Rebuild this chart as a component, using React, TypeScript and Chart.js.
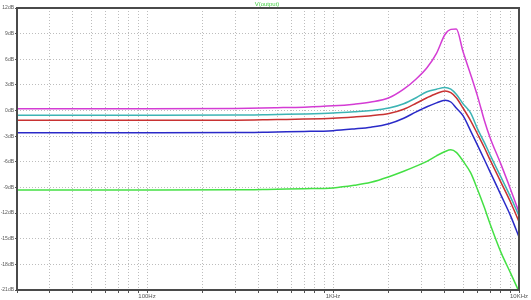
import React, { useEffect, useRef } from "react";
import { Chart, registerables } from "chart.js";

Chart.register(...registerables);

const freqs = [20, 100, 300, 500, 700, 1000, 1300, 1600, 2000, 2400, 2800, 3200, 3600, 4000, 4300, 4600, 5000, 5500, 6000, 6500, 7000, 8000, 9000, 10000];
const magenta = [0.2, 0.2, 0.25, 0.33, 0.4, 0.55, 0.75, 1.0, 1.5, 2.5, 3.7, 5.0, 6.7, 8.9, 9.5, 9.55, 6.9, 4.2, 1.6, -1.1, -3.2, -6.3, -9.2, -11.9];
const cyan = [-0.55, -0.55, -0.53, -0.45, -0.4, -0.3, -0.15, 0.0, 0.3, 0.8, 1.5, 2.2, 2.5, 2.7, 2.5, 1.9, 0.8, -0.3, -2.2, -3.7, -5.2, -7.8, -10.1, -12.3];
const red = [-1.15, -1.15, -1.13, -1.05, -1.0, -0.9, -0.75, -0.6, -0.35, 0.15, 0.85, 1.5, 2.0, 2.3, 2.1, 1.5, 0.3, -1.2, -2.8, -4.3, -5.8, -8.4, -10.7, -13.0];
const blue = [-2.6, -2.6, -2.58, -2.5, -2.45, -2.35, -2.15, -1.95, -1.55, -0.9, -0.15, 0.45, 0.9, 1.2, 1.0, 0.3, -0.6, -2.4, -4.1, -5.7, -7.2, -9.9, -12.3, -14.8];
const green = [-9.3, -9.3, -9.28, -9.2, -9.15, -9.05, -8.75, -8.4, -7.75, -7.1, -6.5, -5.95, -5.3, -4.8, -4.6, -4.9, -5.9, -7.3, -9.3, -11.3, -13.3, -16.6, -19.0, -21.2];

const gridFreqs = [20, 30, 40, 50, 60, 70, 80, 90, 100, 200, 300, 400, 500, 600, 700, 800, 900, 1000, 2000, 3000, 4000, 5000, 6000, 7000, 8000, 9000, 10000];
const xLabels: Record<number, string> = { 100: "100Hz", 1000: "1KHz", 10000: "10KHz" };
const title = "V(output)";

const seriesList = [
  { name: "magenta", data: magenta, color: "#d43cd4" },
  { name: "cyan", data: cyan, color: "#3cb4b4" },
  { name: "red", data: red, color: "#c83232" },
  { name: "blue", data: blue, color: "#2a2ac8" },
  { name: "green", data: green, color: "#44e044" },
];

export default function App() {
  const ref = useRef<HTMLCanvasElement>(null);
  useEffect(() => {
    const framePlugin = {
      id: "frame",
      afterDraw(chart: any) {
        const { ctx, chartArea } = chart;
        ctx.save();
        ctx.strokeStyle = "#4a4a4a";
        ctx.lineWidth = 2;
        ctx.strokeRect(chartArea.left, chartArea.top, chartArea.right - chartArea.left, chartArea.bottom - chartArea.top);
        ctx.fillStyle = "#44d044";
        ctx.font = "6px 'Liberation Sans'";
        ctx.textAlign = "center";
        ctx.textBaseline = "middle";
        ctx.fillText(title, 267, 4);
        ctx.restore();
      },
    };
    const chart = new Chart(ref.current!, {
      type: "line",
      data: {
        datasets: seriesList.map((s) => ({
          label: s.name,
          data: freqs.map((f, i) => ({ x: f, y: s.data[i] })),
          borderColor: s.color,
          backgroundColor: s.color,
          borderWidth: 1.5,
          pointRadius: 0,
          cubicInterpolationMode: "monotone" as const,
          fill: false,
        })),
      },
      options: {
        animation: false,
        responsive: false,
        layout: { padding: { top: 8, right: 12, left: 0, bottom: 0 } },
        plugins: { legend: { display: false }, tooltip: { enabled: false }, title: { display: false } },
        scales: {
          x: {
            type: "logarithmic",
            min: 20,
            max: 10000,
            afterBuildTicks: (scale: any) => {
              scale.ticks = gridFreqs.map((v) => ({ value: v }));
            },
            afterFit: (scale: any) => {
              scale.height = 10;
            },
            ticks: {
              autoSkip: false,
              maxRotation: 0,
              padding: 0,
              color: "#555",
              font: { size: 6, family: "'Liberation Sans'" },
              callback: (v: any) => xLabels[Number(v)] || "",
            },
            grid: { color: "#bdbdbd", lineWidth: 1, tickColor: "#555", tickLength: 3 },
            border: { display: false, dash: [1, 2] },
          },
          y: {
            min: -21,
            max: 12,
            afterFit: (scale: any) => {
              scale.width = 17;
            },
            ticks: {
              stepSize: 3,
              padding: 1,
              color: "#555",
              font: { size: 5, family: "'Liberation Sans'" },
              callback: (v: any) => `${v}dB`,
            },
            grid: { color: "#bdbdbd", lineWidth: 1, tickColor: "#555", tickLength: 2 },
            border: { display: false, dash: [1, 2] },
          },
        },
      },
      plugins: [framePlugin],
    });
    return () => chart.destroy();
  }, []);
  return (
    <div style={{ position: "fixed", left: 0, top: 0, width: 531, height: 300, background: "#fff" }}>
      <canvas ref={ref} width={531} height={300} />
    </div>
  );
}
